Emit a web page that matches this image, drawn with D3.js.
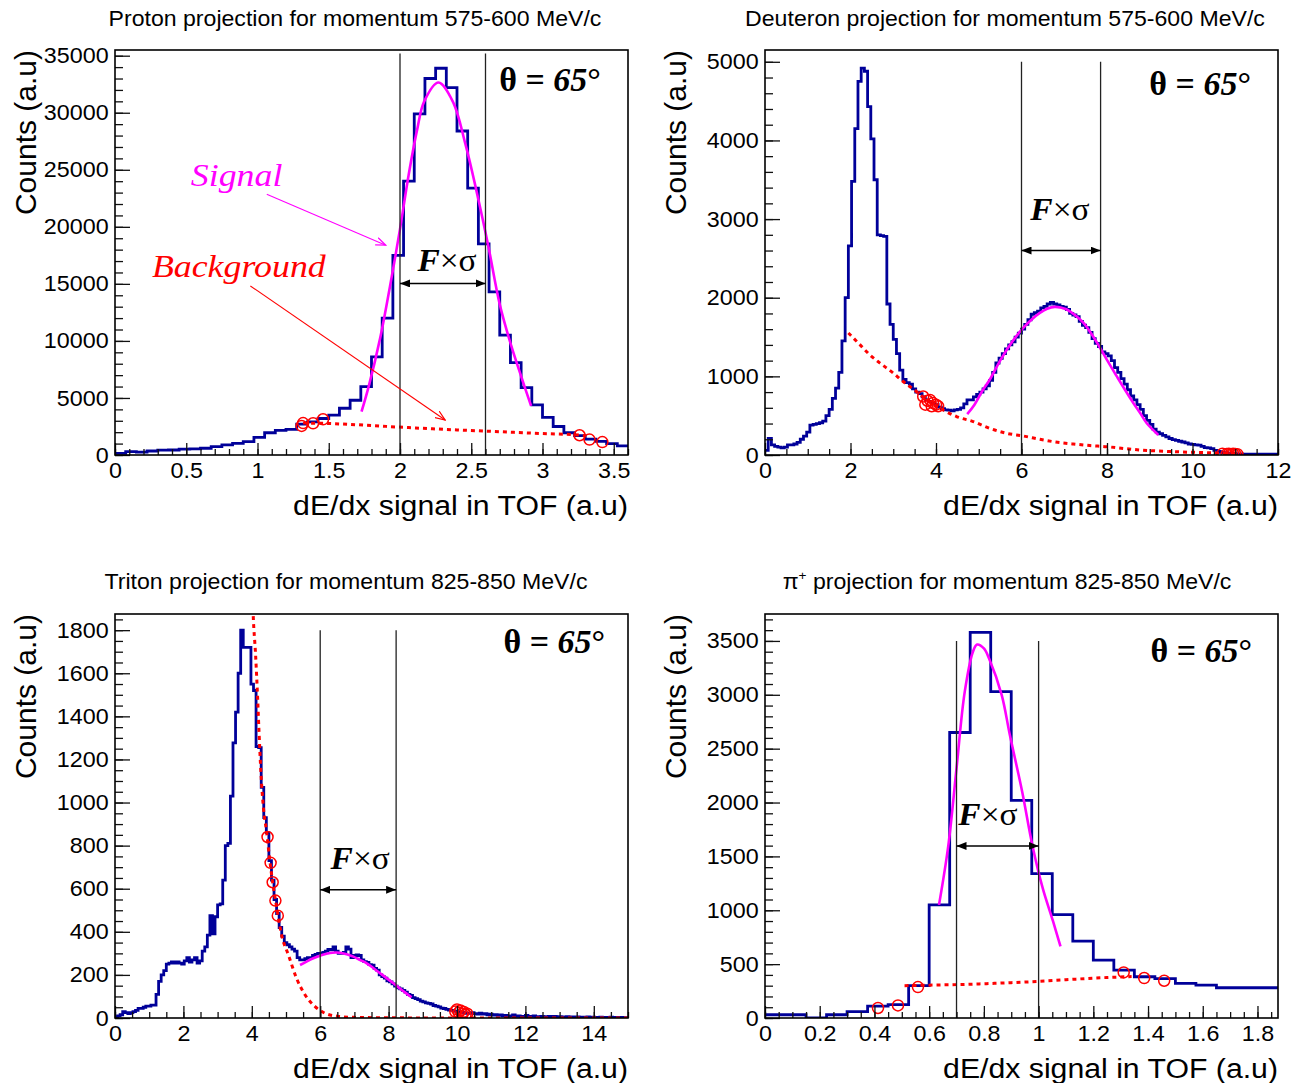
<!DOCTYPE html>
<html><head><meta charset="utf-8">
<script src="https://cdn.jsdelivr.net/npm/d3@7"></script>
<style>body{margin:0;background:#fff}svg{display:block}</style>
</head><body>
<svg id="chart" width="1293" height="1083"></svg>
<script>
// ---------------- DATA ----------------
const BIN_WIDTH = 0.075;

const titles = [
  "Proton projection for momentum 575-600 MeV/c",
  "Deuteron projection for momentum 575-600 MeV/c",
  "Triton projection for momentum 825-850 MeV/c",
  "projection for momentum 825-850 MeV/c"
];
const xAxisTitle = "dE/dx signal in TOF (a.u)";
const yAxisTitle = "Counts (a.u)";

// Proton
const protonCounts = [150,300,250,350,420,440,520,530,590,730,880,1020,1170,1550,1950,2150,2250,2700,2900,3200,
  3500,4100,4800,6000,8600,12000,17500,24000,29900,33000,33900,32200,28400,23400,18500,14300,10500,8100,5900,4400,
  3300,2500,1950,1700,1400,1200,1000,800];
const protonSignal = [[1.73,3800],[1.78,6000],[1.86,10200],[1.93,14800],[2.0,19800],[2.06,24500],[2.12,28500],[2.17,31000],
  [2.27,32650],[2.37,31000],[2.46,27200],[2.55,22400],[2.62,18300],[2.7,13200],[2.78,9600],[2.85,6900],[2.92,4300]];
const protonBackground = [[1.32,2800],[1.48,2770],[1.7,2650],[2.06,2400],[2.4,2200],[2.63,2080],[3.0,1880],[3.2,1790],[3.3,1700]];
const protonMarkers = [[1.31,2550],[1.32,2800],[1.39,2780],[1.46,3130],[3.26,1730],[3.33,1350],[3.42,1130]];
const protonXTicks = [0,0.5,1,1.5,2,2.5,3,3.5];
const protonYTicks = [0,5000,10000,15000,20000,25000,30000,35000];
const protonWindow = [2.0, 2.6];

// Deuteron
const deuteronCounts = [
  60,210,130,110,100,90,100,130,130,140,
  160,200,240,290,380,390,400,410,430,500,
  580,720,850,1050,1450,2000,2660,3480,4150,4750,
  4920,4880,4430,4020,3500,2800,2790,2780,1920,1660,
  1470,1290,1080,960,920,900,840,800,780,740,
  700,680,660,640,610,590,575,570,560,575,
  580,600,650,700,700,740,770,800,840,880,
  950,1050,1170,1230,1290,1350,1400,1440,1500,1550,
  1600,1660,1720,1790,1810,1830,1870,1890,1920,1940,
  1920,1910,1890,1880,1850,1800,1780,1760,1700,1650,
  1620,1560,1480,1420,1380,1310,1290,1260,1200,1110,
  1050,970,900,830,750,700,640,580,500,440,
  390,330,290,270,250,230,210,195,185,175,
  165,155,140,135,130,125,110,95,90,80,
  60,45,35,30,25,20,18,15,15,12,
  12,12,10,10,10,10,10,10,10,10];
const deuteronSignal = [[4.73,520],[4.9,640],[5.1,830],[5.26,960],[5.5,1200],[5.73,1400],[6.04,1616],[6.25,1730],[6.43,1807],
  [6.6,1860],[6.78,1884],[6.95,1870],[7.06,1850],[7.25,1780],[7.45,1680],[7.65,1530],[7.84,1361],[8.03,1180],[8.23,999],
  [8.42,830],[8.62,659],[8.78,530],[8.93,404],[9.2,255]];
const deuteronBackground = [[1.95,1552],[2.22,1403],[2.45,1275],[2.69,1169],[3.0,1042],[3.23,935],[3.54,808],[3.8,690],[4.09,595],
  [4.48,489],[4.87,425],[5.25,340],[5.65,276],[6.04,242],[6.43,200],[6.8,165],[7.21,140],[7.6,120],[7.99,106],[8.4,82],
  [8.77,64],[9.15,52],[9.55,43],[9.95,35],[10.33,30],[10.7,20],[11.05,15]];
const deuteronMarkers = [[3.7,744],[3.75,640],[3.8,690],[3.86,700],[3.9,620],[3.93,660],[4.0,640],[4.05,620],
  [10.7,15],[10.8,12],[10.85,15],[10.9,10],[10.95,15],[11.0,12],[11.05,10]];
const deuteronXTicks = [0,2,4,6,8,10,12];
const deuteronYTicks = [0,1000,2000,3000,4000,5000];
const deuteronWindow = [6.0, 7.85];

// Triton
const tritonCounts = [
  5,10,15,30,25,20,25,30,35,45,
  45,50,55,55,60,60,110,170,200,220,
  250,255,260,255,260,255,250,265,280,260,
  270,280,255,265,310,330,385,475,390,470,
  525,530,640,800,810,1030,1277,1420,1600,1800,
  1720,1720,1720,1550,1520,1260,1255,1070,930,860,
  730,640,550,485,420,380,350,340,330,320,
  310,280,270,270,275,280,280,290,295,300,
  300,305,310,318,316,330,310,300,300,305,
  330,320,280,290,293,290,270,262,258,248,
  245,230,222,200,192,185,172,168,158,148,
  140,135,128,120,110,105,95,90,85,78,
  75,70,68,65,58,55,52,46,44,40,
  37,35,32,30,28,26,24,22,22,25,
  20,18,22,18,20,15,18,14,15,12,
  14,10,12,8,10,14,8,10,6,8,
  12,6,8,10,6,5,8,6,4,7,
  5,8,4,6,5,3,6,4,5,3,
  5,4,3,4,5,3,4,2,3,4,
  2,3,2,4,2,3,2,3,2,2];
const tritonSignal = [[5.41,246],[5.6,262],[5.8,277],[6.05,292],[6.29,302],[6.45,304],[6.58,303],[6.8,295],[6.97,285],
  [7.16,270],[7.36,254],[7.55,232],[7.75,208],[7.95,184],[8.14,161],[8.36,133],[8.58,107],[8.67,96]];
const tritonBackground = [[3.98,2200],[4.04,1874],[4.11,1688],[4.17,1487],[4.21,1332],[4.27,1130],[4.34,975],[4.43,867],
  [4.52,740],[4.6,640],[4.7,540],[4.87,386],[5.07,293],[5.31,184],[5.56,107],[5.85,53],[6.14,22],[6.5,8],[7.0,3],
  [8.0,1],[10.0,0],[15.0,0]];
const tritonMarkers = [[4.46,840],[4.55,720],[4.61,630],[4.69,545],[4.76,475],
  [9.95,30],[10.0,40],[10.05,25],[10.1,35],[10.15,20],[10.2,28],[10.25,15],[10.3,20]];
const tritonXTicks = [0,2,4,6,8,10,12,14];
const tritonYTicks = [0,200,400,600,800,1000,1200,1400,1600,1800];
const tritonWindow = [6.0, 8.22];

// Pion
const pionCounts = [30,30,0,30,60,110,125,300,1050,2650,3580,3030,2020,1340,960,713,537,444,383,365,321,305,281,281,281];
const pionSignal = [[0.636,1050],[0.67,1600],[0.7,2317],[0.73,3027],[0.76,3400],[0.775,3466],[0.8,3430],[0.82,3330],
  [0.865,3000],[0.895,2626],[0.94,2100],[0.977,1606],[1.015,1205],[1.053,896],[1.08,664]];
const pionBackground = [[0.51,300],[0.6,305],[0.7,310],[0.8,318],[0.9,328],[1.0,340],[1.1,355],[1.2,370],[1.29,380],[1.34,385]];
const pionMarkers = [[0.413,93],[0.486,117],[0.559,287],[1.311,423],[1.386,371],[1.459,346]];
const pionXTicks = [0,0.2,0.4,0.6,0.8,1,1.2,1.4,1.6,1.8];
const pionYTicks = [0,500,1000,1500,2000,2500,3000,3500];
const pionWindow = [0.7, 1.0];

// ---------------- LAYOUT / STYLE ----------------
const SANS = '"Liberation Sans", Arial, Helvetica, sans-serif';
const SERIF = '"Liberation Serif", "Times New Roman", serif';
const HIST_COLOR = "#000099";

const panels = [
  { title: titles[0], counts: protonCounts, signal: protonSignal, background: protonBackground, markers: protonMarkers,
    xTicks: protonXTicks, yTicks: protonYTicks, window: protonWindow,
    box: {left:115, top:50, width:513, height:405}, xDomain:[0,3.6], yDomain:[0,35500],
    xMinor:0.1, yMinor:1000, windowTop:35200, arrowY:15040, fsPos:[2.33,16150], thetaPos:[2.696,31875],
    titleX:355, titleY:26, extras:true },
  { title: titles[1], counts: deuteronCounts, signal: deuteronSignal, background: deuteronBackground, markers: deuteronMarkers,
    xTicks: deuteronXTicks, yTicks: deuteronYTicks, window: deuteronWindow,
    box: {left:765, top:50, width:513, height:405}, xDomain:[0,12], yDomain:[0,5150],
    xMinor:0.5, yMinor:200, windowTop:5000, arrowY:2600, fsPos:[6.9,2990], thetaPos:[8.99,4579],
    titleX:1005, titleY:26 },
  { title: titles[2], counts: tritonCounts, signal: tritonSignal, background: tritonBackground, markers: tritonMarkers,
    xTicks: tritonXTicks, yTicks: tritonYTicks, window: tritonWindow,
    box: {left:115, top:614, width:513, height:404}, xDomain:[0,15], yDomain:[0,1875],
    xMinor:0.5, yMinor:50, windowTop:1800, arrowY:595, fsPos:[7.17,690], thetaPos:[11.36,1696],
    titleX:346, titleY:589 },
  { title: titles[3], counts: pionCounts, signal: pionSignal, background: pionBackground, markers: pionMarkers,
    xTicks: pionXTicks, yTicks: pionYTicks, window: pionWindow,
    box: {left:765, top:614, width:513, height:404}, xDomain:[0,1.875], yDomain:[0,3750],
    xMinor:0.05, yMinor:100, windowTop:3500, arrowY:1597, fsPos:[0.815,1792], thetaPos:[1.409,3306],
    titleX:1007, titleY:589, pion:true }
];

// ---------------- DRAW ----------------
const svg = d3.select("#chart");
svg.append("rect").attr("width",1293).attr("height",1083).attr("fill","#fff");
const defs = svg.append("defs");

defs.append("marker").attr("id","headFilled").attr("viewBox","0 0 10 8").attr("refX",10).attr("refY",4)
  .attr("markerWidth",10).attr("markerHeight",8).attr("markerUnits","userSpaceOnUse").attr("orient","auto-start-reverse")
  .append("path").attr("d","M0,0 L10,4 L0,8 Z").attr("fill","#000");
[["headMagenta","#ff00ff"],["headRed","#ff0000"]].forEach(([id,c])=>{
  defs.append("marker").attr("id",id).attr("viewBox","0 0 10 8").attr("refX",9).attr("refY",4)
    .attr("markerWidth",11).attr("markerHeight",9).attr("markerUnits","userSpaceOnUse").attr("orient","auto")
    .append("path").attr("d","M0,0.5 L9,4 L0,7.5").attr("fill","none").attr("stroke",c).attr("stroke-width",1.1);
});

function fmt(d){ return String(+d.toFixed(3)); }

panels.forEach((p, idx) => {
  const b = p.box;
  const x = d3.scaleLinear().domain(p.xDomain).range([b.left, b.left + b.width]);
  const y = d3.scaleLinear().domain(p.yDomain).range([b.top + b.height, b.top]);
  const g = svg.append("g");
  const clipId = "clip" + idx;
  defs.append("clipPath").attr("id", clipId).append("rect")
    .attr("x", b.left).attr("y", b.top).attr("width", b.width).attr("height", b.height);

  // title
  const t = g.append("text").attr("font-family", SANS).attr("font-size", 22).attr("text-anchor","middle")
    .attr("transform", `translate(${p.titleX},${p.titleY}) scale(1.05,1)`).attr("fill","#000");
  if (p.pion) {
    t.append("tspan").text("π");
    t.append("tspan").attr("font-size",13).attr("dy",-9).text("+");
    t.append("tspan").attr("dy",9).text(" " + p.title);
  } else t.text(p.title);

  const plot = g.append("g").attr("clip-path", `url(#${clipId})`);

  // histogram
  const pts = p.counts.map((c,i) => [i * BIN_WIDTH, c]);
  pts.push([p.counts.length * BIN_WIDTH, p.counts[p.counts.length-1]]);
  plot.append("path").datum(pts)
    .attr("d", d3.line().x(d=>x(d[0])).y(d=>y(d[1])).curve(d3.curveStepAfter))
    .attr("fill","none").attr("stroke",HIST_COLOR).attr("stroke-width",2.8).attr("stroke-linejoin","miter");

  // background (dotted red)
  plot.append("path").datum(p.background)
    .attr("d", d3.line().x(d=>x(d[0])).y(d=>y(d[1])).curve(d3.curveMonotoneX))
    .attr("fill","none").attr("stroke","#ff0000").attr("stroke-width",3).attr("stroke-dasharray","4,4");

  // signal (magenta)
  plot.append("path").datum(p.signal)
    .attr("d", d3.line().x(d=>x(d[0])).y(d=>y(d[1])).curve(d3.curveCatmullRom))
    .attr("fill","none").attr("stroke","#ff00ff").attr("stroke-width",2.6);

  // window lines
  plot.selectAll("line.win").data(p.window).join("line").attr("class","win")
    .attr("x1", d=>x(d)).attr("x2", d=>x(d)).attr("y1", y(p.windowTop)).attr("y2", y(p.yDomain[0]))
    .attr("stroke","#222").attr("stroke-width",1.3);

  // markers
  plot.selectAll("circle.mk").data(p.markers).join("circle").attr("class","mk")
    .attr("cx", d=>x(d[0])).attr("cy", d=>y(d[1])).attr("r",5.5)
    .attr("fill","none").attr("stroke","#ff0000").attr("stroke-width",1.5);

  // F x sigma arrow
  g.append("line").attr("x1", x(p.window[0])).attr("x2", x(p.window[1]))
    .attr("y1", y(p.arrowY)).attr("y2", y(p.arrowY))
    .attr("stroke","#000").attr("stroke-width",1.5)
    .attr("marker-start","url(#headFilled)").attr("marker-end","url(#headFilled)");
  const fs = g.append("text").attr("font-family", SERIF).attr("font-size",31).attr("text-anchor","middle")
    .attr("transform", `translate(${x(p.fsPos[0])},${y(p.fsPos[1])}) scale(1.08,1)`);
  fs.append("tspan").attr("font-weight","bold").attr("font-style","italic").text("F");
  fs.append("tspan").text("×σ");

  // theta
  const th = g.append("text").attr("font-family", SERIF).attr("font-size",33).attr("font-weight","bold")
    .attr("transform", `translate(${x(p.thetaPos[0])},${y(p.thetaPos[1])}) scale(1.03,1)`);
  th.append("tspan").text("θ = ");
  th.append("tspan").attr("font-style","italic").text("65");
  th.append("tspan").text("°");

  // axes
  const bottom = b.top + b.height;
  const xMinorTicks = d3.range(p.xDomain[0], p.xDomain[1] + 1e-9, p.xMinor);
  const yMinorTicks = d3.range(p.yDomain[0], p.yDomain[1] + 1e-9, p.yMinor);
  const gxm = g.append("g").attr("transform", `translate(0,${bottom})`)
    .call(d3.axisBottom(x).tickValues(xMinorTicks).tickSize(-6).tickFormat(""));
  const gx = g.append("g").attr("transform", `translate(0,${bottom})`)
    .call(d3.axisBottom(x).tickValues(p.xTicks).tickSize(-12).tickPadding(7).tickFormat(fmt));
  const gym = g.append("g").attr("transform", `translate(${b.left},0)`)
    .call(d3.axisLeft(y).tickValues(yMinorTicks).tickSize(-8).tickFormat(""));
  const gy = g.append("g").attr("transform", `translate(${b.left},0)`)
    .call(d3.axisLeft(y).tickValues(p.yTicks).tickSize(-15).tickPadding(6).tickFormat(d3.format("d")));
  [gxm, gx, gym, gy].forEach(a => {
    a.select(".domain").remove();
    a.selectAll(".tick line").attr("stroke","#111").attr("stroke-width",1.3);
  });
  [gx, gy].forEach(a => {
    a.attr("font-family", SANS).attr("font-size", 22);
    a.selectAll(".tick text").attr("fill","#000").attr("transform","scale(1.06,1)");
  });

  // frame
  g.append("rect").attr("x", b.left).attr("y", b.top).attr("width", b.width).attr("height", b.height)
    .attr("fill","none").attr("stroke","#000").attr("stroke-width",1.6);

  // axis titles
  g.append("text").attr("font-family", SANS).attr("font-size",27).attr("text-anchor","end")
    .attr("transform", `translate(${b.left + b.width},${bottom + 60}) scale(1.12,1)`).text(xAxisTitle);
  g.append("text").attr("font-family", SANS).attr("font-size",30).attr("text-anchor","end")
    .attr("transform", `translate(${b.left - 79},${b.top}) rotate(-90)`).text(yAxisTitle);

  // Signal / Background labels (proton panel)
  if (p.extras) {
    g.append("text").attr("font-family", SERIF).attr("font-size",32).attr("font-style","italic").attr("fill","#ff00ff")
      .attr("transform", `translate(${x(0.532)},${y(23600)}) scale(1.12,1)`).text("Signal");
    g.append("line").attr("x1", x(1.065)).attr("y1", y(22860)).attr("x2", x(1.9)).attr("y2", y(18390))
      .attr("stroke","#ff00ff").attr("stroke-width",1.1).attr("marker-end","url(#headMagenta)");
    g.append("text").attr("font-family", SERIF).attr("font-size",32).attr("font-style","italic").attr("fill","#ff0000")
      .attr("transform", `translate(${x(0.259)},${y(15565)}) scale(1.12,1)`).text("Background");
    g.append("line").attr("x1", x(0.95)).attr("y1", y(14820)).attr("x2", x(2.317)).attr("y2", y(3065))
      .attr("stroke","#ff0000").attr("stroke-width",1.1).attr("marker-end","url(#headRed)");
  }
});
</script>
</body></html>
